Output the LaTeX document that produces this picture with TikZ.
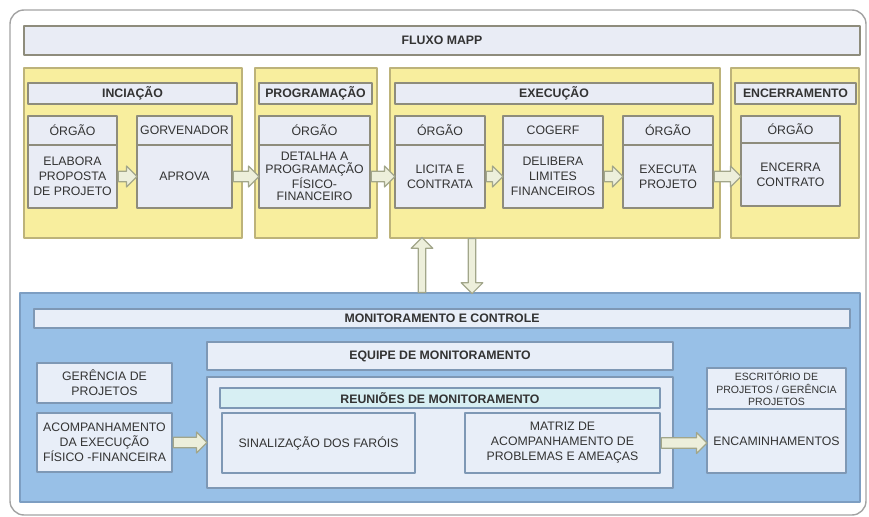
\documentclass[tikz,border=0pt]{standalone}
\usepackage{fontspec}
\setmainfont{Liberation Sans}
\usetikzlibrary{calc,shapes.arrows}

\definecolor{framec}{HTML}{A3A3A3}
\definecolor{boxfill}{HTML}{E9ECF5}
\definecolor{boxline}{HTML}{8E8C7C}
\definecolor{yelfill}{HTML}{F8EE9E}
\definecolor{yelline}{HTML}{BDB37A}
\definecolor{bluefill}{HTML}{98C0E7}
\definecolor{blueline}{HTML}{7D9EC2}
\definecolor{bluebox}{HTML}{E8EEF8}
\definecolor{cyanfill}{HTML}{D7EFF3}
\definecolor{arrfill}{HTML}{EDEFDB}
\definecolor{arrline}{HTML}{A2A68A}
\definecolor{txt}{HTML}{333333}

\newcommand{\boxfont}{\fontsize{7}{8.5}\selectfont}
% block arrow from #1 to #2
\newcommand{\barrow}[2]{%
  \path let \p1=(#1), \p2=(#2), \n1={veclen(\x2-\x1,\y2-\y1)},
    \n2={atan2(\y2-\y1,\x2-\x1)} in
    node[blockarr, minimum height=\n1, rotate=\n2, anchor=tail] at (\p1) {};}

\begin{document}
\begin{tikzpicture}[x=0.02cm, y=-0.02cm, font=\boxfont, line join=round, text=txt,
    area/.style n args={4}{minimum width={(#3-#1)*0.02cm}, minimum height={(#4-#2)*0.02cm},
      at={($(#1,#2)!0.5!(#3,#4)$)}},
    frame/.style={draw=framec, line width=0.8pt, rounded corners=8pt, inner sep=0pt},
    bar/.style={draw=boxline, fill=boxfill, line width=0.8pt, inner sep=0pt, align=center, font=\boxfont\bfseries},
    box/.style={draw=boxline, fill=boxfill, line width=0.8pt, inner sep=0pt, align=center},
    phase/.style={draw=yelline, fill=yelfill, line width=0.8pt, inner sep=0pt},
    mpanel/.style={draw=blueline, fill=bluefill, line width=0.8pt, inner sep=0pt},
    mbox/.style={draw=blueline!80!gray, fill=bluebox, line width=0.8pt, inner sep=0pt, align=center},
    blockarr/.style={single arrow, draw=arrline, fill=arrfill, line width=0.7pt, inner xsep=0pt,
      inner ysep=2.6pt, single arrow head extend=3pt, single arrow head indent=0pt,
      single arrow tip angle=90}]
  \useasboundingbox (0,0) rectangle (869,517);
  \node[frame, area={10}{10}{866}{515}] (frame) {};
  \node[bar, area={24}{26}{860}{55}] (fluxo) {FLUXO MAPP};

  % fases
  \node[phase, area={24}{68}{242}{238}] (ini) {};
  \node[phase, area={255}{68}{377}{238}] (prog) {};
  \node[phase, area={390}{68}{720}{238}] (exe) {};
  \node[phase, area={731}{68}{859}{238}] (enc) {};
  \node[bar, area={28}{83}{237}{104}] (iniH) {INCIAÇÃO};
  \node[bar, area={259}{83}{372}{104}] (progH) {PROGRAMAÇÃO};
  \node[bar, area={395}{83}{713}{104}] (exeH) {EXECUÇÃO};
  \node[bar, area={735}{83}{856}{104}] (encH) {ENCERRAMENTO};

  \node[box, area={28}{116}{117}{145}] (org1) {ÓRGÃO};
  \node[box, area={28}{145}{117}{208}] (elab) {ELABORA\\PROPOSTA\\DE PROJETO};
  \node[box, area={137}{116}{232}{145}] (gov) {GORVENADOR};
  \node[box, area={137}{145}{232}{208}] (aprova) {APROVA};
  \node[box, area={259}{116}{370}{145}] (org2) {ÓRGÃO};
  \node[box, area={259}{145}{370}{208}, font=\fontsize{7}{7.2}\selectfont] (detalha)
    {DETALHA A\\PROGRAMAÇÃO\\FÍSICO-\\FINANCEIRO};
  \node[box, area={395}{116}{485}{145}] (org3) {ÓRGÃO};
  \node[box, area={395}{145}{485}{208}] (licita) {LICITA E\\CONTRATA};
  \node[box, area={503}{116}{603}{145}] (cogerf) {COGERF};
  \node[box, area={503}{145}{603}{208}] (delibera) {DELIBERA\\LIMITES\\FINANCEIROS};
  \node[box, area={623}{116}{713}{145}] (org4) {ÓRGÃO};
  \node[box, area={623}{145}{713}{208}] (executa) {EXECUTA\\PROJETO};
  \node[box, area={741}{116}{840}{143}] (org5) {ÓRGÃO};
  \node[box, area={741}{143}{840}{206}] (encerra) {ENCERRA\\CONTRATO};

  \barrow{elab.east}{aprova.west}
  \barrow{aprova.east}{detalha.west}
  \barrow{detalha.east}{licita.west}
  \barrow{licita.east}{delibera.west}
  \barrow{delibera.east}{executa.west}
  \barrow{executa.east}{executa.east -| encerra.west}

  % monitoramento e controle
  \node[mpanel, area={20}{293}{860}{502}] (mc) {};
  \path (422,293) coordinate (upA) (422,238) coordinate (upB)
        (472,238) coordinate (dnA) (472,293) coordinate (dnB);
  \begin{scope}[blockarr/.append style={inner ysep=1.8pt, single arrow head extend=4pt}]
    \barrow{upA}{upB}
    \barrow{dnA}{dnB}
  \end{scope}
  \node[mbox, area={34}{309}{850}{328}, font=\boxfont\bfseries] (mcH) {MONITORAMENTO E CONTROLE};
  \node[mbox, area={207}{342}{673}{370}, font=\boxfont\bfseries] (equipe) {EQUIPE DE MONITORAMENTO};
  \node[mbox, area={207}{377}{673}{488}] (reun) {};
  \node[mbox, fill=cyanfill, area={220}{388}{660}{408}, font=\boxfont\bfseries] (reunH) {REUNIÕES DE MONITORAMENTO};
  \node[mbox, area={222}{413}{415}{473}] (sinal) {SINALIZAÇÃO DOS FARÓIS};
  \node[mbox, area={465}{413}{660}{473}] (matriz) {MATRIZ DE\\ACOMPANHAMENTO DE\\PROBLEMAS E AMEAÇAS};
  \node[mbox, area={37}{363}{172}{403}] (ger) {GERÊNCIA DE\\PROJETOS};
  \node[mbox, area={37}{413}{172}{472}] (acomp) {ACOMPANHAMENTO\\DA EXECUÇÃO\\FÍSICO -FINANCEIRA};
  \node[mbox, area={707}{368}{846}{409}, font=\fontsize{6}{7}\selectfont] (escr)
    {ESCRITÓRIO DE\\PROJETOS / GERÊNCIA\\PROJETOS};
  \node[mbox, area={707}{409}{846}{473}] (encam) {ENCAMINHAMENTOS};

  \barrow{acomp.east}{acomp.east -| reun.west}
  \barrow{matriz.east}{matriz.east -| encam.west}
\end{tikzpicture}
\end{document}
